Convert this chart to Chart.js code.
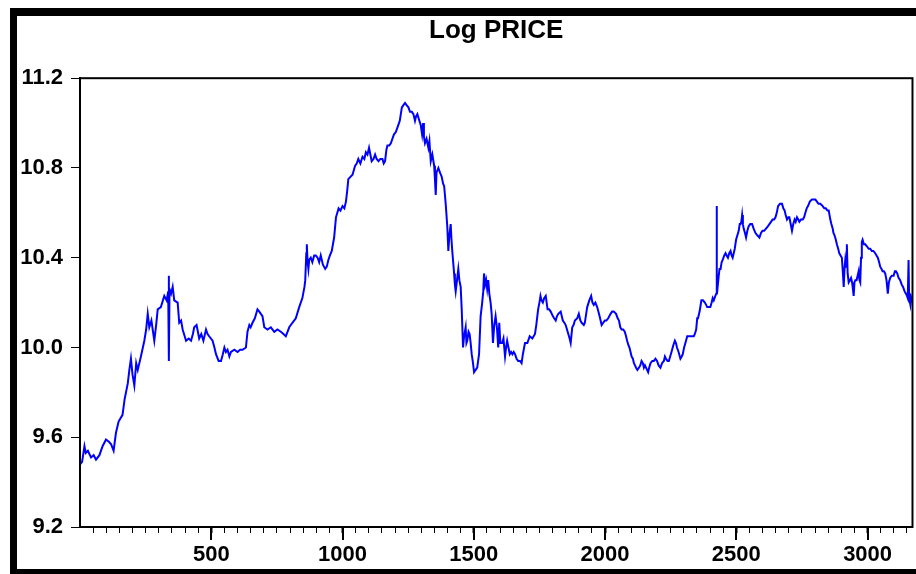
<!DOCTYPE html>
<html>
<head>
<meta charset="utf-8">
<title>Log PRICE</title>
<script src="https://cdn.jsdelivr.net/npm/chart.js@4/dist/chart.umd.min.js"></script>
<style>
  html, body { margin: 0; padding: 0; background: #fff; }
  canvas { display: block; }
</style>
</head>
<body>
<canvas id="priceChart" width="916" height="574"></canvas>
<script>
const obs = [
  1, 8, 17, 22, 30, 42, 52, 61, 74, 86, 99, 110, 118, 128, 137, 147, 162, 170, 182, 188,
  194, 200, 207, 214, 220, 232, 245, 252, 258, 264, 272, 283, 290, 296, 308, 321, 330, 336, 338, 339,
  341, 347, 353, 359, 372, 378, 385, 391, 404, 414, 423, 430, 435, 444, 454, 462, 470, 480, 486, 492,
  505, 512, 518, 528, 537, 544, 550, 556, 562, 569, 575, 588, 600, 610, 619, 632, 638, 645, 650, 657,
  666, 676, 683, 695, 702, 714, 727, 740, 752, 765, 775, 784, 797, 809, 822, 835, 847, 855, 858, 862,
  864, 867, 870, 873, 879, 885, 892, 898, 905, 911, 917, 925, 934, 940, 946, 952, 959, 968, 975, 985,
  992, 1000, 1007, 1013, 1018, 1022, 1030, 1038, 1048, 1054, 1060, 1068, 1076, 1083, 1089, 1095, 1101, 1106, 1111, 1118,
  1124, 1130, 1137, 1144, 1152, 1157, 1162, 1167, 1171, 1178, 1184, 1190, 1196, 1203, 1209, 1215, 1218, 1222, 1226, 1232,
  1238, 1244, 1251, 1257, 1264, 1270, 1276, 1280, 1285, 1290, 1298, 1303, 1307, 1310, 1314, 1320, 1327, 1331, 1336, 1342,
  1349, 1352, 1355, 1358, 1365, 1371, 1378, 1383, 1387, 1393, 1399, 1403, 1407, 1412, 1415, 1418, 1425, 1428, 1431, 1436,
  1441, 1445, 1450, 1454, 1459, 1463, 1469, 1472, 1475, 1480, 1484, 1488, 1492, 1497, 1501, 1507, 1513, 1520, 1526, 1532,
  1536, 1539, 1543, 1547, 1551, 1555, 1559, 1564, 1568, 1573, 1578, 1583, 1588, 1593, 1597, 1601, 1608, 1613, 1619, 1623,
  1627, 1632, 1637, 1642, 1647, 1652, 1657, 1663, 1669, 1676, 1682, 1687, 1695, 1704, 1713, 1723, 1733, 1738, 1745, 1750,
  1754, 1758, 1763, 1768, 1774, 1781, 1787, 1793, 1801, 1806, 1812, 1817, 1822, 1831, 1839, 1845, 1850, 1855, 1860, 1865,
  1869, 1875, 1880, 1885, 1894, 1900, 1906, 1911, 1919, 1923, 1928, 1932, 1940, 1947, 1952, 1957, 1963, 1970, 1979, 1987,
  1993, 1999, 2005, 2012, 2021, 2027, 2033, 2042, 2048, 2053, 2058, 2063, 2069, 2075, 2080, 2084, 2089, 2093, 2097, 2101,
  2106, 2110, 2114, 2118, 2123, 2129, 2134, 2139, 2144, 2148, 2152, 2156, 2160, 2164, 2168, 2173, 2180, 2186, 2192, 2198,
  2204, 2211, 2217, 2224, 2228, 2232, 2238, 2243, 2248, 2253, 2260, 2266, 2270, 2274, 2280, 2287, 2292, 2296, 2301, 2306,
  2313, 2320, 2329, 2338, 2342, 2347, 2351, 2354, 2360, 2367, 2373, 2380, 2385, 2389, 2395, 2401, 2406, 2410, 2414, 2420,
  2424, 2425, 2426, 2428, 2433, 2436, 2440, 2444, 2448, 2454, 2459, 2463, 2468, 2473, 2478, 2482, 2486, 2490, 2494, 2499,
  2504, 2509, 2513, 2516, 2519, 2522, 2525, 2528, 2533, 2537, 2542, 2547, 2553, 2560, 2566, 2573, 2580, 2588, 2594, 2600,
  2606, 2613, 2620, 2626, 2632, 2638, 2644, 2649, 2654, 2659, 2666, 2674, 2679, 2684, 2688, 2693, 2698, 2702, 2707, 2712,
  2717, 2722, 2726, 2731, 2736, 2740, 2746, 2753, 2758, 2763, 2768, 2773, 2780, 2788, 2794, 2801, 2807, 2813, 2820, 2829,
  2835, 2841, 2847, 2852, 2855, 2858, 2862, 2867, 2870, 2874, 2879, 2883, 2888, 2892, 2897, 2902, 2906, 2909, 2912, 2915,
  2918, 2921, 2924, 2928, 2933, 2937, 2941, 2944, 2947, 2950, 2953, 2958, 2962, 2966, 2969, 2972, 2975, 2978, 2981, 2986,
  2991, 2998, 3004, 3010, 3016, 3022, 3029, 3034, 3039, 3044, 3048, 3053, 3057, 3062, 3067, 3072, 3077, 3081, 3086, 3092,
  3099, 3104, 3108, 3113, 3118, 3124, 3130, 3135, 3141, 3146, 3150, 3153, 3156, 3158, 3160, 3163, 3166, 3170
];

// log price at each of those observations
const logPrice = [
  9.48, 9.49, 9.56, 9.53, 9.54, 9.51, 9.52, 9.50, 9.52, 9.56, 9.59, 9.58, 9.57, 9.54, 9.62, 9.67, 9.70, 9.77, 9.84, 9.90,
  9.95, 9.88, 9.83, 9.93, 9.90, 9.96, 10.03, 10.08, 10.15, 10.09, 10.12, 10.03, 10.10, 10.17, 10.18, 10.23, 10.21, 10.25, 10.32, 9.94,
  10.26, 10.24, 10.27, 10.21, 10.20, 10.11, 10.12, 10.08, 10.03, 10.04, 10.03, 10.06, 10.09, 10.10, 10.04, 10.06, 10.03, 10.08, 10.06, 10.05,
  10.03, 10.00, 9.97, 9.94, 9.94, 9.97, 10.00, 9.98, 9.99, 9.96, 9.98, 9.99, 9.98, 9.99, 9.99, 10.00, 10.07, 10.10, 10.09, 10.11,
  10.13, 10.17, 10.16, 10.14, 10.09, 10.08, 10.09, 10.07, 10.08, 10.07, 10.06, 10.05, 10.09, 10.11, 10.13, 10.18, 10.22, 10.27, 10.30, 10.42,
  10.46, 10.38, 10.35, 10.39, 10.40, 10.38, 10.41, 10.41, 10.40, 10.38, 10.41, 10.37, 10.35, 10.36, 10.39, 10.41, 10.43, 10.49, 10.58, 10.62,
  10.61, 10.63, 10.62, 10.65, 10.70, 10.75, 10.76, 10.77, 10.81, 10.82, 10.84, 10.82, 10.85, 10.84, 10.87, 10.86, 10.89, 10.86, 10.83, 10.84,
  10.86, 10.84, 10.83, 10.84, 10.84, 10.82, 10.83, 10.88, 10.90, 10.90, 10.91, 10.93, 10.95, 10.96, 10.98, 11.00, 11.01, 11.04, 11.07, 11.08,
  11.09, 11.08, 11.07, 11.05, 11.05, 11.04, 11.01, 11.03, 11.04, 11.02, 10.99, 10.95, 11.00, 10.94, 10.91, 10.93, 10.89, 10.92, 10.83, 10.86,
  10.81, 10.75, 10.68, 10.78, 10.80, 10.78, 10.76, 10.73, 10.72, 10.64, 10.54, 10.43, 10.50, 10.55, 10.48, 10.43, 10.33, 10.28, 10.25, 10.30,
  10.35, 10.30, 10.27, 10.17, 10.00, 10.05, 10.09, 10.02, 10.03, 10.07, 10.06, 10.02, 9.97, 9.93, 9.89, 9.90, 9.91, 9.97, 10.14, 10.20,
  10.25, 10.33, 10.28, 10.30, 10.26, 10.30, 10.24, 10.20, 10.15, 10.02, 10.10, 10.14, 10.09, 10.00, 10.11, 10.02, 10.02, 10.04, 9.96, 10.00,
  10.03, 10.00, 9.97, 9.98, 9.97, 9.98, 9.97, 9.95, 9.94, 9.94, 9.93, 9.97, 10.02, 10.02, 10.05, 10.04, 10.06, 10.10, 10.17, 10.20,
  10.23, 10.21, 10.20, 10.22, 10.23, 10.17, 10.17, 10.16, 10.14, 10.13, 10.12, 10.14, 10.15, 10.16, 10.12, 10.11, 10.10, 10.08, 10.06, 10.04,
  10.02, 10.09, 10.10, 10.12, 10.13, 10.15, 10.12, 10.11, 10.10, 10.11, 10.15, 10.18, 10.21, 10.23, 10.20, 10.19, 10.20, 10.18, 10.14, 10.10,
  10.11, 10.12, 10.12, 10.13, 10.15, 10.16, 10.16, 10.15, 10.13, 10.12, 10.09, 10.08, 10.08, 10.07, 10.05, 10.03, 10.01, 10.00, 9.98, 9.96,
  9.95, 9.93, 9.92, 9.91, 9.90, 9.91, 9.92, 9.94, 9.93, 9.91, 9.92, 9.91, 9.90, 9.89, 9.91, 9.93, 9.94, 9.94, 9.95, 9.94,
  9.92, 9.91, 9.93, 9.94, 9.96, 9.95, 9.94, 9.94, 9.96, 9.98, 10.01, 10.03, 10.02, 10.00, 9.98, 9.95, 9.96, 9.97, 10.00, 10.02,
  10.05, 10.05, 10.05, 10.05, 10.06, 10.08, 10.13, 10.13, 10.16, 10.21, 10.21, 10.20, 10.19, 10.18, 10.18, 10.18, 10.20, 10.22, 10.21, 10.23,
  10.24, 10.63, 10.27, 10.26, 10.32, 10.35, 10.35, 10.38, 10.39, 10.41, 10.42, 10.41, 10.40, 10.42, 10.43, 10.41, 10.40, 10.42, 10.44, 10.48,
  10.50, 10.52, 10.55, 10.55, 10.56, 10.59, 10.55, 10.53, 10.51, 10.49, 10.52, 10.54, 10.55, 10.55, 10.53, 10.51, 10.50, 10.49, 10.51, 10.52,
  10.52, 10.53, 10.54, 10.55, 10.56, 10.57, 10.57, 10.58, 10.60, 10.63, 10.64, 10.64, 10.62, 10.61, 10.59, 10.57, 10.58, 10.58, 10.55, 10.52,
  10.55, 10.57, 10.56, 10.58, 10.57, 10.56, 10.57, 10.57, 10.58, 10.60, 10.62, 10.63, 10.65, 10.66, 10.66, 10.66, 10.65, 10.64, 10.64, 10.63,
  10.62, 10.62, 10.61, 10.61, 10.59, 10.57, 10.55, 10.53, 10.51, 10.50, 10.48, 10.46, 10.44, 10.42, 10.41, 10.40, 10.33, 10.27, 10.35, 10.39,
  10.36, 10.46, 10.33, 10.29, 10.30, 10.31, 10.29, 10.26, 10.23, 10.29, 10.30, 10.30, 10.32, 10.34, 10.30, 10.29, 10.40, 10.47, 10.48, 10.46,
  10.46, 10.45, 10.44, 10.44, 10.43, 10.43, 10.42, 10.41, 10.40, 10.38, 10.36, 10.35, 10.34, 10.34, 10.33, 10.30, 10.24, 10.29, 10.31, 10.32,
  10.32, 10.34, 10.34, 10.33, 10.31, 10.30, 10.28, 10.27, 10.25, 10.24, 10.23, 10.22, 10.39, 10.24, 10.21, 10.19, 10.22, 10.20
];

const yTicks = [9.2, 9.6, 10.0, 10.4, 10.8, 11.2];
const xMajorTicks = [500, 1000, 1500, 2000, 2500, 3000];

const axisFont = { family: 'Liberation Sans', size: 22, weight: 'bold' };

// outer black frame, the plot box and the long major ticks on the x axis
const framePlugin = {
  id: 'frame',
  beforeDraw(chart) {
    const c = chart.ctx;
    c.save();
    c.fillStyle = '#fff';
    c.fillRect(0, 0, chart.width, chart.height);
    c.fillStyle = '#000';
    c.fillRect(10, 8, chart.width - 10, 8);
    c.fillRect(10, 8, 7, chart.height - 8);
    c.fillRect(10, 569, chart.width - 10, 5);
    c.restore();
  },
  afterDraw(chart) {
    const c = chart.ctx;
    const a = chart.chartArea;
    const xs = chart.scales.x;
    c.save();
    c.strokeStyle = '#000';
    c.lineWidth = 2;
    c.strokeRect(a.left, a.top, a.right - a.left, a.bottom - a.top);
    xMajorTicks.forEach(v => {
      const px = Math.round(xs.getPixelForValue(v));
      c.beginPath();
      c.moveTo(px, a.bottom);
      c.lineTo(px, a.bottom + 13);
      c.stroke();
    });
    c.restore();
  }
};

const ctx = document.getElementById('priceChart').getContext('2d');
new Chart(ctx, {
  type: 'line',
  data: {
    datasets: [{
      label: 'Log PRICE',
      data: obs.map((o, i) => ({ x: o, y: logPrice[i] })),
      borderColor: '#0000ff',
      borderWidth: 2,
      pointRadius: 0,
      tension: 0,
      fill: false
    }]
  },
  options: {
    responsive: false,
    animation: false,
    devicePixelRatio: 1,
    layout: { padding: { left: 0, right: 2, top: 0, bottom: 0 } },
    plugins: {
      legend: { display: false },
      tooltip: { enabled: false },
      title: {
        display: true,
        text: 'Log PRICE',
        color: '#000',
        fullSize: false,
        font: { family: 'Liberation Sans', size: 26, weight: 'bold' },
        padding: { top: 15, bottom: 32 }
      }
    },
    scales: {
      x: {
        type: 'linear',
        min: 0,
        max: 3171,
        afterFit(s) { s.height = 47; },
        border: { display: true, color: '#000', width: 2 },
        grid: {
          drawOnChartArea: false,
          tickLength: 6,
          tickColor: c => (c.tick && c.tick.value === 0) ? 'rgba(0,0,0,0)' : '#000',
          tickWidth: c => (c.tick && c.tick.value % 500 === 0) ? 2 : 1
        },
        ticks: {
          stepSize: 50,
          autoSkip: false,
          includeBounds: false,
          maxRotation: 0,
          padding: 9,
          color: '#000',
          font: axisFont,
          callback: v => xMajorTicks.includes(v) ? String(v) : ''
        }
      },
      y: {
        min: 9.2,
        max: 11.2,
        afterFit(s) { s.width = 80; },
        afterBuildTicks(s) { s.ticks = yTicks.map(v => ({ value: v })); },
        border: { display: true, color: '#000', width: 2 },
        grid: { drawOnChartArea: false, tickLength: 9, tickColor: '#000', tickWidth: 1 },
        ticks: {
          padding: 8,
          color: '#000',
          font: axisFont,
          callback: v => Number(v).toFixed(1)
        }
      }
    }
  },
  plugins: [framePlugin]
});
</script>
</body>
</html>
